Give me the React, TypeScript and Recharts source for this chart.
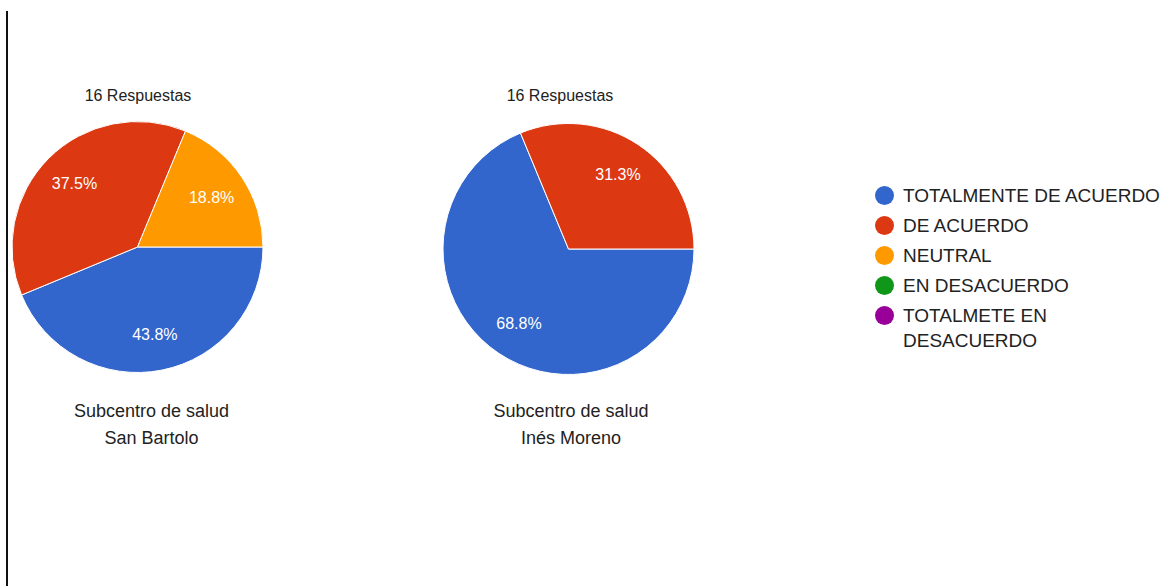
import { PieChart, Pie, Cell, Legend } from 'recharts';

const CATEGORIES = [
  'TOTALMENTE DE ACUERDO',
  'DE ACUERDO',
  'NEUTRAL',
  'EN DESACUERDO',
  'TOTALMETE EN DESACUERDO',
];
const COLORS = ['#3366cc', '#dc3912', '#ff9900', '#109618', '#990099'];

const SAN_BARTOLO = [7, 6, 3, 0, 0];
const INES_MORENO = [11, 5, 0, 0, 0];

const TITLES = ['16 Respuestas', '16 Respuestas'];
const SUBTITLES = [
  ['Subcentro de salud', 'San Bartolo'],
  ['Subcentro de salud', 'Inés Moreno'],
];

const FONT = '"Liberation Sans", Arial, sans-serif';
const RADIAN = Math.PI / 180;

const toRows = (values: number[]) =>
  CATEGORIES.map((name, i) => ({ name, value: values[i] }));

function renderLabel({ cx, cy, midAngle, outerRadius, percent }: any) {
  if (!percent) return null;
  const r = outerRadius * 0.71;
  const x = cx + r * Math.cos(-midAngle * RADIAN);
  const y = cy + r * Math.sin(-midAngle * RADIAN);
  return (
    <text
      x={x}
      y={y}
      fill="#fff"
      fontSize={16}
      fontFamily={FONT}
      textAnchor="middle"
      dominantBaseline="central"
    >
      {(percent * 100).toFixed(1)}%
    </text>
  );
}

function LegendContent() {
  return (
    <div style={{ fontFamily: FONT, fontSize: 19, color: '#222' }}>
      {CATEGORIES.map((name, i) => (
        <div key={name} style={{ display: 'flex', alignItems: 'flex-start', marginBottom: 5 }}>
          <span
            style={{
              width: 19,
              height: 19,
              borderRadius: '50%',
              background: COLORS[i],
              marginTop: 3,
              flexShrink: 0,
            }}
          />
          <span style={{ marginLeft: 9, lineHeight: '25px', width: 262 }}>{name}</span>
        </div>
      ))}
    </div>
  );
}

export default function App() {
  const pies = [
    { data: toRows(SAN_BARTOLO), cx: 137.5, cy: 247, tx: 138, sx: 151.5 },
    { data: toRows(INES_MORENO), cx: 568.5, cy: 249, tx: 560, sx: 571 },
  ];
  return (
    <div style={{ position: 'fixed', left: 0, top: 0, width: 1170, height: 586, background: '#fff' }}>
      <PieChart width={1170} height={586} margin={{ top: 0, right: 0, bottom: 0, left: 0 }}>
        <line x1={7} y1={11} x2={7} y2={586} stroke="#111" strokeWidth={2} />
        {pies.map((p, k) => (
          <Pie
            key={k}
            data={p.data}
            dataKey="value"
            nameKey="name"
            cx={p.cx}
            cy={p.cy}
            outerRadius={125.5}
            startAngle={0}
            endAngle={-360}
            stroke="#fff"
            strokeWidth={1}
            label={renderLabel}
            labelLine={false}
            isAnimationActive={false}
          >
            {p.data.map((_, i) => (
              <Cell key={`cell-${k}-${i}`} fill={COLORS[i]} />
            ))}
          </Pie>
        ))}
        {pies.map((p, k) => (
          <g key={`t-${k}`} fontFamily={FONT} fill="#222">
            <text x={p.tx} y={101} fontSize={16} textAnchor="middle">
              {TITLES[k]}
            </text>
            <text x={p.sx} y={417} fontSize={18} textAnchor="middle">
              {SUBTITLES[k][0]}
            </text>
            <text x={p.sx} y={444} fontSize={18} textAnchor="middle">
              {SUBTITLES[k][1]}
            </text>
          </g>
        ))}
        <Legend
          content={<LegendContent />}
          wrapperStyle={{ position: 'absolute', left: 875, top: 183, width: 295 }}
        />
      </PieChart>
    </div>
  );
}
